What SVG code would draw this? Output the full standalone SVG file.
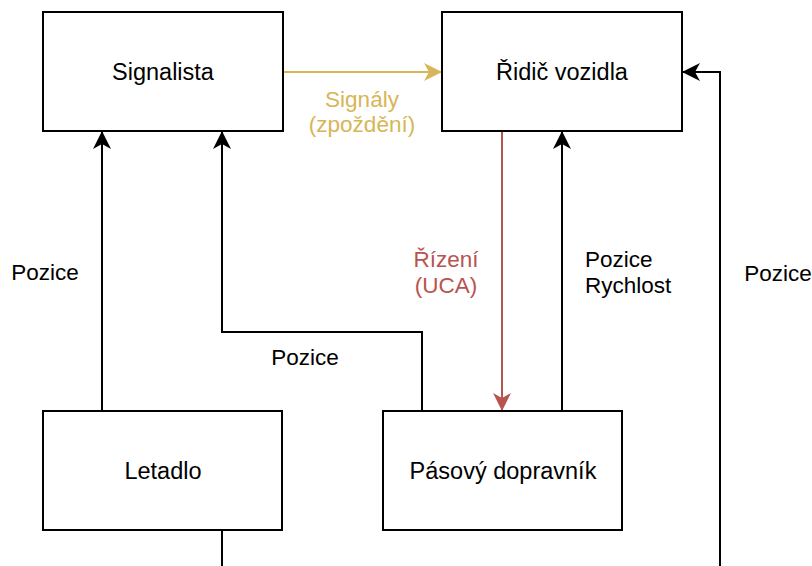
<svg xmlns="http://www.w3.org/2000/svg" width="812" height="566" viewBox="0 0 812 566">
<style>
.box{fill:#fff;stroke:#000;stroke-width:2}
.t{font-family:"Liberation Sans",Arial,sans-serif;font-size:22.5px;text-anchor:middle;fill:#000}
.b{font-size:23.5px}
.l{font-family:"Liberation Sans",Arial,sans-serif;font-size:22.5px;fill:#000}
.e{fill:none;stroke:#000;stroke-width:2}
</style>
<defs>
<marker id="ab" markerUnits="userSpaceOnUse" markerWidth="18" markerHeight="18" refX="17" refY="9" orient="auto"><path d="M0,0 L18,9 L0,18 L5,9 Z" fill="#000"/></marker>
<marker id="ay" markerUnits="userSpaceOnUse" markerWidth="18" markerHeight="18" refX="17" refY="9" orient="auto"><path d="M0,0 L18,9 L0,18 L5,9 Z" fill="#d6b656"/></marker>
<marker id="ar" markerUnits="userSpaceOnUse" markerWidth="18" markerHeight="18" refX="17" refY="9" orient="auto"><path d="M0,0 L18,9 L0,18 L5,9 Z" fill="#b85450"/></marker>
</defs>
<rect width="812" height="566" fill="#fff"/>
<g id="edges">
<path class="e" d="M283,72 L441,72" style="stroke:#d6b656" marker-end="url(#ay)"/>
<path class="e" d="M502,131 L502,410" style="stroke:#b85450" marker-end="url(#ar)"/>
<path class="e" d="M562,411 L562,132" marker-end="url(#ab)"/>
<path class="e" d="M102,411 L102,132" marker-end="url(#ab)"/>
<path class="e" d="M422,411 L422,332 L222,332 L222,132" marker-end="url(#ab)"/>
<path class="e" d="M222,530 L222,600 L720,600 L720,72 L683,72" marker-end="url(#ab)"/>
<text class="t" x="362" y="107" style="fill:#d6b656">Signály</text>
<text class="t" x="362" y="132" style="fill:#d6b656">(zpoždění)</text>
<text class="t" x="446" y="267" style="fill:#b85450">Řízení</text>
<text class="t" x="446" y="293" style="fill:#b85450">(UCA)</text>
<text class="l" x="585" y="267">Pozice</text>
<text class="l" x="585" y="293">Rychlost</text>
<text class="t" x="45" y="280">Pozice</text>
<text class="t" x="305" y="365">Pozice</text>
<text class="t" x="778" y="281">Pozice</text>
</g>
<g id="signalista"><rect class="box" x="43" y="12" width="240" height="119"/><text class="t b" x="163" y="80">Signalista</text></g>
<g id="ridic"><rect class="box" x="442" y="12" width="240" height="119"/><text class="t b" x="562" y="80">Řidič vozidla</text></g>
<g id="letadlo"><rect class="box" x="43" y="411" width="239" height="119"/><text class="t b" x="163" y="479">Letadlo</text></g>
<g id="dopravnik"><rect class="box" x="383" y="411" width="239" height="119"/><text class="t b" x="503" y="479">Pásový dopravník</text></g>
</svg>
